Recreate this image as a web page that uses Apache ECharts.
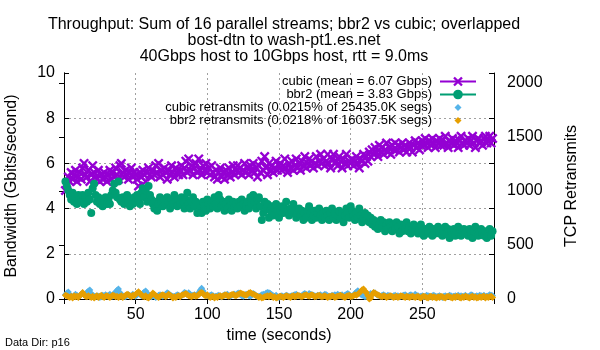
<!DOCTYPE html>
<html>
<head>
<meta charset="utf-8">
<title>Throughput bbr2 vs cubic</title>
<script src="https://cdn.jsdelivr.net/npm/echarts@6/dist/echarts.min.js"></script>
<style>
html, body { margin: 0; padding: 0; background: #fff; }
#chart { width: 600px; height: 350px; }
</style>
</head>
<body>
<div id="chart"></div>
<script>
// title lines
var titleLines = [
	'Throughput: Sum of 16 parallel streams; bbr2 vs cubic; overlapped',
	'bost-dtn to wash-pt1.es.net',
	'40Gbps host to 10Gbps host, rtt = 9.0ms'
];
var seriesNames = [
	'cubic (mean = 6.07 Gbps)',
	'bbr2 (mean = 3.83 Gbps)',
	'cubic retransmits (0.0215% of 25435.0K segs)',
	'bbr2 retransmits (0.0218% of 16037.5K segs)'
];

// time (seconds)
var seconds = [
	1,2,3,4,5,6,7,8,9,10,
	11,12,13,14,15,16,17,18,19,20,
	21,22,23,24,25,26,27,28,29,30,
	31,32,33,34,35,36,37,38,39,40,
	41,42,43,44,45,46,47,48,49,50,
	51,52,53,54,55,56,57,58,59,60,
	61,62,63,64,65,66,67,68,69,70,
	71,72,73,74,75,76,77,78,79,80,
	81,82,83,84,85,86,87,88,89,90,
	91,92,93,94,95,96,97,98,99,100,
	101,102,103,104,105,106,107,108,109,110,
	111,112,113,114,115,116,117,118,119,120,
	121,122,123,124,125,126,127,128,129,130,
	131,132,133,134,135,136,137,138,139,140,
	141,142,143,144,145,146,147,148,149,150,
	151,152,153,154,155,156,157,158,159,160,
	161,162,163,164,165,166,167,168,169,170,
	171,172,173,174,175,176,177,178,179,180,
	181,182,183,184,185,186,187,188,189,190,
	191,192,193,194,195,196,197,198,199,200,
	201,202,203,204,205,206,207,208,209,210,
	211,212,213,214,215,216,217,218,219,220,
	221,222,223,224,225,226,227,228,229,230,
	231,232,233,234,235,236,237,238,239,240,
	241,242,243,244,245,246,247,248,249,250,
	251,252,253,254,255,256,257,258,259,260,
	261,262,263,264,265,266,267,268,269,270,
	271,272,273,274,275,276,277,278,279,280,
	281,282,283,284,285,286,287,288,289,290,
	291,292,293,294,295,296,297,298,299
];

// bandwidth, Gbits/second
var cubicGbps = [
	4.8,5.1,5.4,5.2,5.6,5.3,5.5,5.7,5.2,5.4,
	5.6,5.3,5.8,6.0,5.5,5.4,5.7,5.2,5.5,5.9,
	5.6,5.4,5.3,5.7,5.2,5.5,5.3,5.6,5.4,5.2,
	5.5,5.7,5.3,5.6,5.4,5.8,5.5,5.3,5.9,6.0,
	5.6,5.4,5.7,5.5,5.3,5.6,5.8,5.4,5.6,5.5,
	5.3,5.0,5.6,5.4,5.7,5.5,5.2,5.6,5.8,5.5,
	5.4,5.7,5.5,5.9,5.6,6.0,5.4,5.7,5.5,5.8,
	5.6,5.3,5.7,5.5,5.9,5.6,5.4,5.8,5.6,5.5,
	5.7,5.9,5.5,5.8,6.1,5.6,6.2,5.7,5.9,5.5,
	5.8,6.0,5.6,6.2,5.7,5.5,5.9,5.7,6.0,5.6,
	5.8,5.5,5.9,5.6,5.4,5.7,5.3,5.6,5.8,5.4,
	5.6,5.3,5.7,5.5,5.8,5.4,5.6,5.9,5.5,5.7,
	5.9,5.6,5.8,5.5,5.7,6.0,5.6,5.8,5.5,5.9,
	5.7,6.0,5.6,5.8,5.4,5.9,5.6,6.1,5.7,6.3,
	5.8,5.5,6.0,5.7,5.9,5.6,5.8,6.1,5.7,5.9,
	6.0,5.7,5.9,6.2,5.8,5.6,6.0,5.8,6.1,5.7,
	5.9,6.2,5.8,6.0,5.7,6.1,5.9,6.3,5.8,6.0,
	6.2,5.9,6.1,5.8,6.0,6.3,5.9,6.1,6.4,6.0,
	6.2,5.9,6.1,6.4,6.0,5.8,6.2,6.4,6.0,6.1,
	5.9,6.3,6.1,5.8,6.2,6.0,6.4,5.9,6.1,6.0,
	6.2,5.9,6.1,6.3,6.0,5.8,6.2,6.1,6.4,6.0,
	6.3,6.1,6.5,6.3,6.6,6.4,6.7,6.5,6.3,6.8,
	6.5,6.7,6.4,6.6,6.9,6.5,6.7,6.4,6.8,6.6,
	6.9,6.6,6.8,6.5,6.7,6.9,6.6,6.8,6.5,6.7,
	6.9,6.7,6.5,6.8,7.0,6.7,6.9,6.6,6.8,7.0,
	6.8,7.1,6.9,6.7,7.0,6.8,7.1,6.9,6.7,7.0,
	6.9,7.1,6.8,7.0,6.8,7.2,6.9,6.7,7.0,6.9,
	7.1,6.8,7.0,6.9,6.7,7.0,7.2,6.9,6.8,7.0,
	6.9,7.1,6.8,7.0,7.2,6.9,6.7,7.0,7.1,6.9,
	7.0,6.8,7.1,7.2,6.9,7.0,7.2,6.9,7.1
];
var bbr2Gbps = [
	5.2,5.0,4.8,4.6,4.4,4.7,4.3,4.5,4.2,4.6,
	4.4,4.3,4.6,4.2,4.5,4.3,4.7,4.4,3.8,4.9,
	5.1,4.6,4.3,4.5,4.2,4.4,4.1,4.3,4.5,4.2,
	4.4,4.2,4.6,4.8,5.1,4.7,4.5,5.2,4.4,4.3,
	4.5,4.2,4.4,4.6,4.3,4.1,4.4,4.2,4.5,4.3,
	4.6,4.4,4.2,4.7,4.9,4.5,4.8,4.3,5.0,4.6,
	4.4,4.2,4.0,4.3,3.9,4.2,4.5,4.3,4.1,4.4,
	4.2,4.5,4.3,4.0,4.4,4.2,4.6,4.3,4.1,4.4,
	4.2,4.5,4.3,4.0,4.4,4.7,4.2,4.0,4.3,4.5,
	4.1,4.3,3.8,4.2,4.0,3.8,4.3,4.1,3.9,4.4,
	4.2,4.0,4.3,4.1,4.5,4.2,4.0,4.6,4.4,4.1,
	4.3,3.9,4.2,4.0,4.4,4.1,3.9,4.3,4.1,4.2,
	4.0,4.3,4.1,4.4,4.2,3.9,4.1,4.3,4.0,4.5,
	4.2,4.6,4.3,4.0,4.4,4.5,4.1,3.5,3.8,4.3,
	4.0,4.2,3.6,3.9,4.1,3.7,4.0,4.2,3.9,3.6,
	3.9,4.1,3.8,4.0,4.3,3.9,3.7,4.0,3.8,4.2,
	3.9,3.6,3.8,4.0,3.7,3.9,3.5,3.8,3.6,3.9,
	4.1,3.8,3.5,3.7,3.9,3.6,3.8,4.0,3.7,3.5,
	3.8,3.6,3.9,3.7,3.5,3.8,4.0,3.6,3.8,3.5,
	3.7,3.9,3.6,3.8,3.4,3.7,4.0,3.8,3.6,4.1,
	3.9,3.7,3.5,3.8,3.6,4.0,3.7,3.4,3.6,3.8,
	3.5,3.7,3.4,3.6,3.3,3.5,3.2,3.4,3.1,3.3,
	3.5,3.2,3.4,3.0,3.3,3.1,3.4,3.2,3.0,3.3,
	3.1,3.4,3.2,2.9,3.3,3.0,3.2,3.1,3.4,3.0,
	3.2,2.9,3.1,3.3,3.0,3.2,2.9,3.1,3.3,3.0,
	2.8,3.1,3.0,2.9,3.2,3.0,2.8,3.1,2.9,3.0,
	3.2,2.9,3.1,2.8,3.0,3.2,2.9,3.1,2.7,3.0,
	2.9,3.1,2.8,3.0,3.2,2.9,2.8,3.0,3.1,2.9,
	3.0,2.8,3.1,2.9,2.7,3.0,3.2,2.9,2.8,3.0,
	3.1,2.9,2.8,3.0,2.7,2.9,3.1,2.8,3.0
];

// TCP retransmits
var cubicRetrans = [
	40,55,65,35,25,20,30,45,35,25,
	30,45,55,40,30,60,75,83,50,35,
	25,20,30,25,15,20,35,30,40,25,
	35,45,30,25,50,65,80,93,60,40,
	30,25,20,35,40,25,30,45,35,25,
	40,55,45,30,50,65,74,55,35,25,
	20,30,25,15,25,35,40,30,25,35,
	45,58,50,35,30,25,20,30,40,35,
	25,30,45,60,55,40,58,45,30,35,
	40,30,45,55,80,99,75,50,35,30,
	25,35,40,30,20,25,30,35,25,20,
	30,40,35,45,30,25,35,40,45,35,
	50,55,40,30,25,35,45,40,30,25,
	35,50,45,30,20,25,30,40,45,35,
	55,60,58,50,40,30,25,35,20,15,
	25,30,20,25,35,30,20,25,30,35,
	40,45,35,30,25,30,45,50,40,35,
	50,45,40,35,30,25,35,30,40,25,
	35,45,40,30,20,25,35,30,40,35,
	45,35,30,40,25,35,45,50,40,30,
	25,35,50,65,77,60,45,35,30,20,
	25,35,40,50,45,59,55,45,35,30,
	25,35,40,30,25,35,30,25,20,30,
	35,25,30,20,25,30,35,40,30,25,
	35,40,30,25,45,35,30,20,25,30,
	20,25,35,30,25,20,30,35,25,20,
	25,30,20,15,25,30,20,25,35,30,
	20,25,30,20,35,25,30,20,25,35,
	25,20,30,40,35,25,20,30,25,35,
	30,25,35,20,25,30,40,35,30
];
var bbr2Retrans = [
	35,30,20,15,25,10,30,20,25,15,
	30,45,60,40,25,20,30,20,15,25,
	10,20,30,15,25,35,20,15,25,30,
	20,15,25,35,30,20,25,15,20,30,
	15,25,35,45,40,30,20,35,30,45,
	55,68,50,40,25,20,30,15,10,25,
	35,55,45,30,20,15,25,35,40,30,
	20,30,45,35,25,10,20,15,25,30,
	20,35,40,45,50,40,30,25,20,30,
	35,25,30,40,55,60,50,35,30,40,
	25,15,20,25,10,20,15,25,30,20,
	30,35,40,30,25,35,40,45,35,30,
	40,45,55,50,45,40,35,45,55,60,
	50,45,40,30,25,15,20,10,15,20,
	25,30,20,35,25,15,20,10,15,20,
	25,20,15,20,30,25,20,15,25,30,
	20,25,35,30,25,20,30,35,40,30,
	25,35,40,30,20,25,30,35,25,20,
	25,30,20,15,25,20,30,25,15,20,
	25,30,35,25,20,15,25,30,35,20,
	25,30,40,35,45,55,70,85,93,70,
	60,30,0,10,40,60,55,45,40,30,
	25,20,30,25,15,20,25,30,20,15,
	20,25,15,20,30,25,20,15,25,20,
	15,20,25,20,15,20,25,15,10,20,
	25,20,15,10,20,25,15,20,15,10,
	20,15,25,20,15,10,20,25,20,15,
	10,20,15,25,20,15,10,20,15,25,
	20,15,10,20,25,15,20,10,15,20,
	15,20,25,10,20,15,20,25,15
];

var FONT = '"Liberation Sans", Arial, sans-serif';
var CROSS = 'path://M0,1.7L1.7,0L5,3.3L8.3,0L10,1.7L6.7,5L10,8.3L8.3,10L5,6.7L1.7,10L0,8.3L3.3,5Z';
var SMALL_DIAMOND = 'path://M0,0M12,12M6,2.5L9.5,6L6,9.5L2.5,6Z';

function pairs(ys){
	return seconds.map(function(t, i){ return [t, ys[i]]; });
}

function frameAxis(extra){
	var base = {
		type: 'value',
		axisLine: { show: true, lineStyle: { color: '#000', width: 1 } },
		axisTick: { show: true, inside: true, length: 5, lineStyle: { color: '#000' } },
		axisLabel: { show: false },
		splitLine: { show: false }
	};
	for (var k in extra) base[k] = extra[k];
	return base;
}

var gridLine = { show: true, showMinLine: false, showMaxLine: false, lineStyle: { color: '#a0a0a0', width: 1, type: [2, 3] } };

var myChart = echarts.init(document.getElementById('chart'));
var option = {
	animation: false,
	backgroundColor: '#fff',
	textStyle: { fontFamily: FONT, color: '#000' },
	title: {
		text: titleLines.join('\n'),
		left: 279,
		top: 12,
		textAlign: 'center',
		textStyle: { fontFamily: FONT, fontSize: 16, fontWeight: 'normal', lineHeight: 16, color: '#000' }
	},
	graphic: [{
		type: 'text', left: 5, top: 337,
		style: { text: 'Data Dir: p16', font: '11px ' + FONT, fill: '#000' }
	}],
	legend: {
		orient: 'vertical',
		right: 123,
		top: 75,
		padding: 0,
		align: 'right',
		itemWidth: 36,
		itemHeight: 12,
		itemGap: 0,
		selectedMode: false,
		textStyle: { fontFamily: FONT, fontSize: 13, color: '#000', lineHeight: 12, padding: [0, 3, 0, 0] },
		lineStyle: { width: 2, opacity: 1 },
		data: [
			{ name: seriesNames[0] },
			{ name: seriesNames[1] },
			{ name: seriesNames[2], icon: SMALL_DIAMOND },
			{ name: seriesNames[3], icon: SMALL_DIAMOND }
		]
	},
	grid: { left: 64, right: 106, top: 73, bottom: 51, outerBoundsMode: 'none' },
	xAxis: [
		frameAxis({
			min: 0, max: 300, interval: 50,
			name: 'time (seconds)', nameLocation: 'middle', nameGap: 29,
			nameTextStyle: { fontFamily: FONT, fontSize: 16, color: '#000' },
			axisLabel: { show: true, fontFamily: FONT, fontSize: 16, color: '#000', margin: 8,
				formatter: function(v){ return (v === 0 || v === 300) ? '' : String(v); } },
			splitLine: gridLine
		}),
		frameAxis({ position: 'top', min: 0, max: 300, interval: 50 })
	],
	yAxis: [
		frameAxis({
			position: 'left', min: 0, max: 10, interval: 2,
			name: 'Bandwidth (Gbits/second)', nameLocation: 'middle', nameGap: 44,
			nameTextStyle: { fontFamily: FONT, fontSize: 16, color: '#000' },
			axisLabel: { show: true, fontFamily: FONT, fontSize: 16, color: '#000', margin: 9 },
			splitLine: gridLine
		}),
		frameAxis({
			position: 'right', min: 0, max: 2093, interval: 500,
			name: 'TCP Retransmits', nameLocation: 'middle', nameGap: 70,
			nameTextStyle: { fontFamily: FONT, fontSize: 16, color: '#000' },
			axisLabel: { show: true, fontFamily: FONT, fontSize: 16, color: '#000', margin: 13, showMaxLabel: false,
				formatter: function(v){ return String(v); } }
		}),
		frameAxis({ position: 'right', min: 0, max: 10, interval: 2 })
	],
	series: [
		{
			name: seriesNames[0], type: 'line', data: pairs(cubicGbps),
			color: '#9400d3', symbol: CROSS, symbolSize: 10, showAllSymbol: true,
			lineStyle: { width: 0, opacity: 0 }, itemStyle: { color: '#9400d3', borderWidth: 0 }
		},
		{
			name: seriesNames[1], type: 'line', data: pairs(bbr2Gbps),
			color: '#009e73', symbol: 'circle', symbolSize: 8, showAllSymbol: true,
			lineStyle: { width: 0, opacity: 0 }, itemStyle: { color: '#009e73', borderWidth: 0 }
		},
		{
			name: seriesNames[2], type: 'scatter', yAxisIndex: 1, data: pairs(cubicRetrans),
			symbol: 'diamond', symbolSize: 7, itemStyle: { color: '#56b4e9', opacity: 1 }
		},
		{
			name: seriesNames[3], type: 'scatter', yAxisIndex: 1, data: pairs(bbr2Retrans),
			symbol: 'diamond', symbolSize: 7, itemStyle: { color: '#e69f00', opacity: 1 }
		}
	]
};
myChart.setOption(option, true);
</script>
</body>
</html>
